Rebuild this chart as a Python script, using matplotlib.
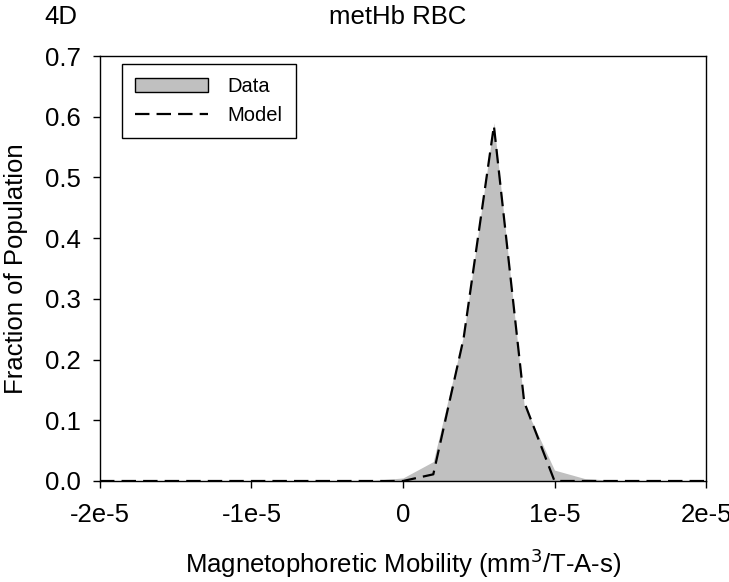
import matplotlib
matplotlib.use("Agg")
import matplotlib.pyplot as plt
import numpy as np
from matplotlib.patches import Patch
from matplotlib.lines import Line2D

plt.rcParams['font.family'] = ['Liberation Sans', 'DejaVu Sans']

mobility = [-2.0e-5, -1.8e-5, -1.6e-5, -1.4e-5, -1.2e-5, -1.0e-5, -0.8e-5, -0.6e-5,
            -0.4e-5, -0.2e-5, 0.0, 0.2e-5, 0.4e-5, 0.6e-5, 0.8e-5, 1.0e-5,
            1.2e-5, 1.4e-5, 1.6e-5, 1.8e-5, 2.0e-5]
data_frac = [0, 0, 0, 0, 0, 0, 0, 0,
             0.0, 0.001, 0.005, 0.032, 0.24, 0.59, 0.125, 0.018,
             0.004, 0.001, 0, 0, 0]
model_frac = [0, 0, 0, 0, 0, 0, 0, 0,
              0, 0, 0.0, 0.011, 0.235, 0.585, 0.13, 0.0,
              0, 0, 0, 0, 0]

xticks = [-2e-5, -1e-5, 0, 1e-5, 2e-5]
xticklabels = ['-2e-5', '-1e-5', '0', '1e-5', '2e-5']
yticks = [0.0, 0.1, 0.2, 0.3, 0.4, 0.5, 0.6, 0.7]
yticklabels = ['0.0', '0.1', '0.2', '0.3', '0.4', '0.5', '0.6', '0.7']

W, H = 729, 582
fig = plt.figure(figsize=(W/100, H/100), dpi=100)
ax = fig.add_axes([100/W, 1-481/H, (706-100)/W, (481-56)/H])

gray = '#C0C0C0'
ax.fill_between(mobility, data_frac, 0, color=gray, linewidth=0)
ax.plot(mobility, model_frac, color='black', linewidth=1.6, dashes=(6.5, 3.2))

ax.set_xlim(-2e-5, 2e-5)
ax.set_ylim(0, 0.7)
ax.set_xticks(xticks)
ax.set_xticklabels(xticklabels)
ax.set_yticks(yticks)
ax.set_yticklabels(yticklabels)
ax.tick_params(direction='out', length=5, width=1, labelsize=18.5)
ax.tick_params(axis='y', pad=9)
ax.tick_params(axis='x', pad=11)
for s in ax.spines.values():
    s.set_linewidth(1)
    s.set_color('black')

ax.set_xlabel('Magnetophoretic Mobility (mm$^3$/T-A-s)', fontsize=18.5, labelpad=14)
ax.set_ylabel('Fraction of Population', fontsize=18.5, labelpad=12)
fig.text(398/W, 1-17/H, 'metHb RBC', fontsize=18.5, ha='center', va='center')
fig.text(61/W, 1-17/H, '4D', fontsize=18.5, ha='center', va='center')

handles = [Patch(facecolor=gray, edgecolor='black', linewidth=1),
           Line2D([0], [0], color='black', linewidth=1.6, dashes=(6.5, 3.2))]
leg = ax.legend(handles, ['Data', 'Model'], loc='upper left',
                bbox_to_anchor=(22/606, 1-8/425), borderaxespad=0,
                fontsize=14.5, fancybox=False,
                framealpha=1, edgecolor='black', handlelength=3.6, borderpad=0.65,
                handletextpad=1.0, labelspacing=0.5)
leg.get_frame().set_linewidth(1)

fig.savefig('out.png', dpi=100)
